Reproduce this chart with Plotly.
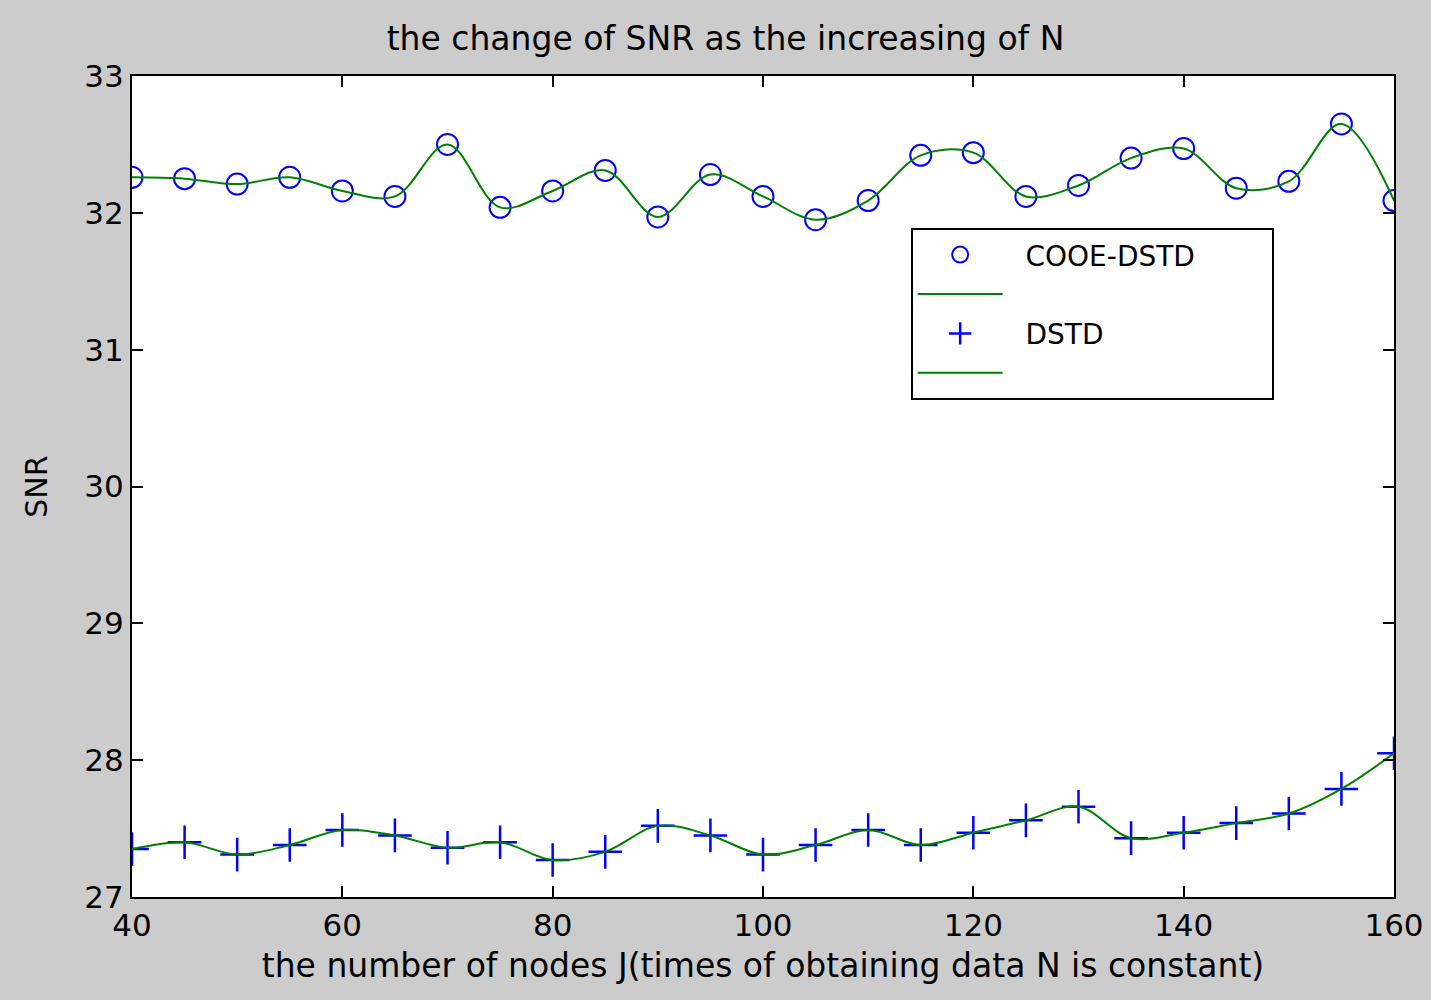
import plotly.graph_objects as go

# Number of nodes J
nodes = [40, 45, 50, 55, 60, 65, 70, 75, 80, 85, 90, 95, 100,
         105, 110, 115, 120, 125, 130, 135, 140, 145, 150, 155, 160]

# SNR
snr_cooe = [32.26, 32.25, 32.21, 32.26, 32.16, 32.12, 32.50, 32.04, 32.16, 32.31, 31.97, 32.28, 32.12,
            31.95, 32.09, 32.42, 32.44, 32.12, 32.20, 32.40, 32.47, 32.18, 32.23, 32.65, 32.09]
snr_dstd = [27.35, 27.40, 27.31, 27.38, 27.49, 27.45, 27.36, 27.40, 27.27, 27.33, 27.52, 27.45, 27.31,
            27.38, 27.49, 27.38, 27.47, 27.56, 27.66, 27.43, 27.47, 27.54, 27.61, 27.79, 28.05]

x_ticks = [40, 60, 80, 100, 120, 140, 160]
y_ticks = [27, 28, 29, 30, 31, 32, 33]

BLUE = '#0000ff'
GREEN = '#008000'
FONT = 'DejaVu Sans'
NBSP = '\u00a0'

fig = go.Figure()

# markers first, the green spline goes over them (as in matlab)
# (nbsp padding widens the legend box like the matlab one)
fig.add_trace(go.Scatter(
    x=nodes, y=snr_cooe, mode='markers', name=NBSP * 2 + 'COOE-DSTD' + NBSP * 8,
    marker=dict(symbol='circle-open', size=21, color=BLUE, line=dict(width=2, color=BLUE)),
))
fig.add_trace(go.Scatter(
    x=nodes, y=snr_cooe, mode='lines', name=NBSP,
    line=dict(color=GREEN, width=2, shape='spline', smoothing=1.0),
))
fig.add_trace(go.Scatter(
    x=nodes, y=snr_dstd, mode='markers', name=NBSP * 2 + 'DSTD',
    marker=dict(symbol='cross-thin-open', size=24, color=BLUE, line=dict(width=2.5, color=BLUE)),
))
fig.add_trace(go.Scatter(
    x=nodes, y=snr_dstd, mode='lines', name=NBSP,
    line=dict(color=GREEN, width=2, shape='spline', smoothing=1.0),
))

axis_common = dict(
    showgrid=False, zeroline=False, automargin=False,
    showline=True, linecolor='black', linewidth=2, mirror='ticks',
    ticks='inside', ticklen=11, tickwidth=2, tickcolor='black',
    tickfont=dict(family=FONT, size=31, color='black'),
)

fig.update_xaxes(range=[40, 160], tickvals=x_ticks, ticktext=[str(v) for v in x_ticks],
                 title=dict(text='the number of nodes J(times of obtaining data N is constant)',
                            font=dict(family=FONT, size=33, color='black'), standoff=12),
                 **axis_common)
fig.update_yaxes(range=[27, 33], tickvals=y_ticks, ticktext=[str(v) for v in y_ticks],
                 title=dict(text='SNR', font=dict(family=FONT, size=30, color='black'), standoff=28),
                 **axis_common)

fig.update_layout(
    width=1431, height=1000,
    paper_bgcolor='#cccccc', plot_bgcolor='white',
    margin=dict(l=132, r=37, t=76, b=103),
    title=dict(text='the change of SNR as the increasing of N',
               font=dict(family=FONT, size=33, color='black'),
               x=0.507, xanchor='center', y=0.962, yanchor='middle'),
    legend=dict(
        x=0.617, y=0.815, xanchor='left', yanchor='top',
        bgcolor='white', bordercolor='black', borderwidth=2,
        font=dict(family=FONT, size=28, color='black'),
        itemwidth=85,
    ),
    showlegend=True,
)

# no page margin so the figure fills the window like the original screenshot
fig.write_html('out.html', config={'displayModeBar': False},
               post_script="document.body.style.margin='0';")
